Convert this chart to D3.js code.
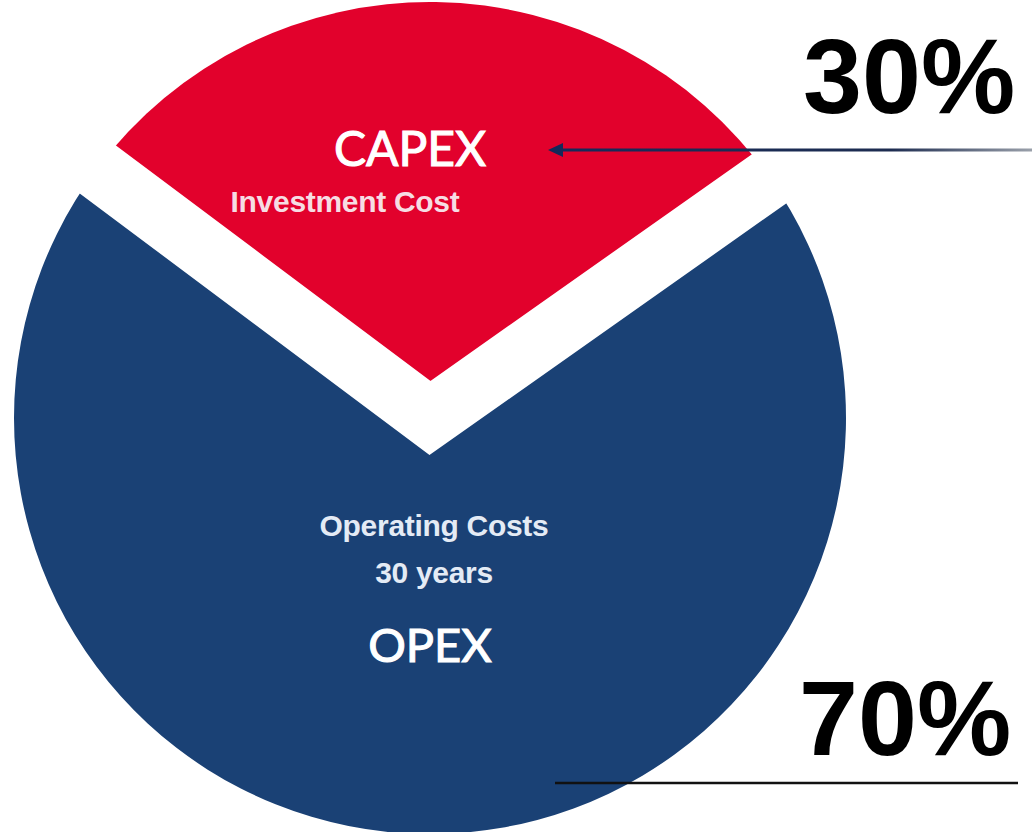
<!DOCTYPE html>
<html>
<head>
<meta charset="utf-8">
<script src="https://cdn.jsdelivr.net/npm/d3@7"></script>
<style>
  html, body { margin: 0; padding: 0; background: #ffffff; }
  svg { display: block; }
</style>
</head>
<body>
<svg id="chart" width="1032" height="832"></svg>
<script>
// ---- data ----
const categories = ["CAPEX", "OPEX"];
const values = [30, 70];
const percentLabels = ["30%", "70%"];
const descriptions = [["Investment Cost"], ["Operating Costs", "30 years"]];
const colors = ["#e2012c", "#1a4175"];

// ---- layout ----
const W = 1032, H = 832;
const cx = 430, cy = 418, R = 416;
const gap = 60;
const rot = 0.8 * Math.PI / 180;

const svg = d3.select("#chart");
const g = svg.append("g").attr("transform", `translate(${cx},${cy})`);

const pie = d3.pie().sort(null)
  .startAngle(-0.3 * Math.PI + rot)
  .endAngle(1.7 * Math.PI + rot);
const arcs = pie(values);
const arc = d3.arc().innerRadius(0).outerRadius(R);

g.selectAll("path.slice")
  .data(arcs)
  .enter().append("path")
  .attr("class", "slice")
  .attr("d", arc)
  .attr("fill", (d, i) => colors[i]);

// white separation between the slices (V shape through the centre)
const boundaries = [arcs[0].startAngle, arcs[0].endAngle];
const ext = R + 60;
const pt = a => [ext * Math.sin(a), -ext * Math.cos(a)];
g.append("path")
  .attr("d", d3.line()([pt(boundaries[0]), [0, 0], pt(boundaries[1])]))
  .attr("fill", "none")
  .attr("stroke", "#ffffff")
  .attr("stroke-width", gap)
  .attr("stroke-linejoin", "miter")
  .attr("stroke-miterlimit", 10);

// ---- texts in slices ----
const big = "Lato, 'Open Sans', sans-serif";
const small = "'Liberation Sans', Arial, sans-serif";

g.append("text").text(categories[0])
  .attr("x", -20).attr("y", 166 - cy)
  .attr("text-anchor", "middle")
  .attr("font-family", big).attr("font-size", 48)
  .attr("fill", "#ffffff").attr("stroke", "#ffffff").attr("stroke-width", 1.1);

g.append("text").text(descriptions[0][0])
  .attr("x", 345 - cx).attr("y", 212 - cy)
  .attr("text-anchor", "middle")
  .attr("font-family", small).attr("font-weight", "bold").attr("font-size", 30)
  .attr("letter-spacing", -0.3)
  .attr("fill", "#f6dde3");

descriptions[1].forEach((t, i) => {
  g.append("text").text(t)
    .attr("x", 434 - cx).attr("y", (i === 0 ? 536 : 583) - cy)
    .attr("text-anchor", "middle")
    .attr("font-family", small).attr("font-weight", "bold").attr("font-size", 30)
    .attr("letter-spacing", -0.3)
    .attr("fill", "#e4ebf5");
});

g.append("text").text(categories[1])
  .attr("x", 0).attr("y", 662 - cy)
  .attr("text-anchor", "middle")
  .attr("font-family", big).attr("font-size", 47)
  .attr("fill", "#ffffff").attr("stroke", "#ffffff").attr("stroke-width", 1.1);

// ---- percentage callouts ----
const defs = svg.append("defs");
const grad = defs.append("linearGradient").attr("id", "lineGrad")
  .attr("x1", "0%").attr("x2", "100%").attr("y1", "0%").attr("y2", "0%");
grad.append("stop").attr("offset", "0%").attr("stop-color", "#16295a");
grad.append("stop").attr("offset", "70%").attr("stop-color", "#1d2c50");
grad.append("stop").attr("offset", "100%").attr("stop-color", "#9aa0aa");

svg.append("rect")
  .attr("x", 560).attr("y", 148.5).attr("width", W - 560).attr("height", 3)
  .attr("fill", "url(#lineGrad)");
svg.append("path")
  .attr("d", "M548,150 L563,143 L563,157 Z")
  .attr("fill", "#16295a");

svg.append("text").text(percentLabels[0])
  .attr("x", 803).attr("y", 113)
  .attr("font-family", small).attr("font-weight", "bold").attr("font-size", 106)
  .attr("fill", "#000000");

svg.append("line")
  .attr("x1", 555).attr("x2", 1018).attr("y1", 783).attr("y2", 783)
  .attr("stroke", "#111111").attr("stroke-width", 2.5);

svg.append("text").text(percentLabels[1])
  .attr("x", 799).attr("y", 755)
  .attr("font-family", small).attr("font-weight", "bold").attr("font-size", 106)
  .attr("fill", "#000000");
</script>
</body>
</html>
